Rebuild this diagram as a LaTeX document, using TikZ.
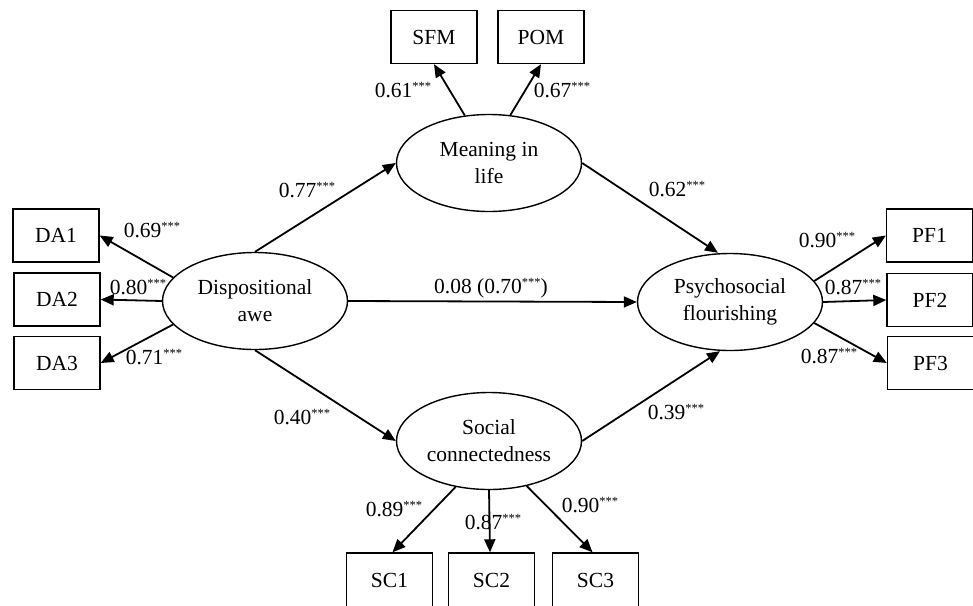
\documentclass[tikz,border=0pt]{standalone}
\usepackage{fontspec}
\setmainfont{Liberation Serif}
\usetikzlibrary{shapes.geometric,arrows.meta}
\newcommand{\fsz}{\fontsize{21.5}{27}\selectfont}
\newcommand{\st}{\raisebox{7.5pt}{\fontsize{12.5}{12.5}\selectfont ***}}
\tikzset{
  obs/.style={draw, line width=1.4pt, minimum width=86pt, minimum height=53pt, inner sep=0pt, font=\fsz},
  lat/.style={draw, ellipse, line width=1.4pt, minimum width=185pt, minimum height=97pt, inner sep=0pt, align=center, font=\fsz},
  arr/.style={line width=1.8pt, -{Triangle[length=13pt,width=11pt]}},
  lab/.style={font=\fsz, inner sep=0pt}
}
\begin{document}
\begin{tikzpicture}[x=1pt,y=-1pt]
\useasboundingbox (0,0) rectangle (973,605);
% latent
\node[lat] (da) at (255,301) {Dispositional\\awe};
\node[lat] (mil) at (489,163) {Meaning in\\life};
\node[lat] (sc) at (489,441) {Social\\connectedness};
\node[lat] (pf) at (730,302) {Psychosocial\\flourishing};
% observed
\node[obs] (da1) at (56,235.5) {DA1};
\node[obs] (da2) at (57,299.5) {DA2};
\node[obs] (da3) at (57,363) {DA3};
\node[obs] (sfm) at (434,37) {SFM};
\node[obs] (pom) at (541,37) {POM};
\node[obs] (pf1) at (929.5,235.5) {PF1};
\node[obs] (pf2) at (930,300) {PF2};
\node[obs] (pf3) at (930.5,363) {PF3};
\node[obs, minimum height=54pt] (sc1) at (389.5,580) {SC1};
\node[obs, minimum height=54pt] (sc2) at (491.5,580) {SC2};
\node[obs, minimum height=54pt] (sc3) at (595.5,580) {SC3};
% structural paths
\draw[arr] (da.north) -- (mil.west);
\draw[arr] (da.south) -- (sc.west);
\draw[arr] (da.east) -- (pf.west);
\draw[arr] (mil.east) -- ([xshift=-12pt]pf.north);
\draw[arr] (sc.east) -- ([xshift=-10pt]pf.south);
% measurement
\draw[arr] (da.164) -- (da1.east);
\draw[arr] (da.west) -- (da2.east);
\draw[arr] (da.196) -- (da3.east);
\draw[arr] (mil.117) -- (sfm.south);
\draw[arr] (mil.66) -- (pom.south);
\draw[arr] (pf.14.5) -- (pf1.west);
\draw[arr] (pf.east) -- (pf2.west);
\draw[arr] (pf.-14) -- (pf3.west);
\draw[arr] (sc.234) -- ([xshift=3pt]sc1.north);
\draw[arr] (sc.south) -- ([xshift=-1.5pt]sc2.north);
\draw[arr] (sc.-50) -- ([xshift=-3pt]sc3.north);
% labels
\node[lab] (l1) at (307,190) {0.77\st};
\node[lab] (l2) at (152,230) {0.69\st};
\node[lab] (l3) at (138,287) {0.80\st};
\node[lab] (l4) at (154,357) {0.71\st};
\node[lab] (l5) at (403,90) {0.61\st};
\node[lab] (l6) at (562,90) {0.67\st};
\node[lab] (l7) at (677,189) {0.62\st};
\node[lab] (l8) at (491,288) {0.08 (0.70\st)};
\node[lab] (l9) at (827,240) {0.90\st};
\node[lab] (l10) at (853,287) {0.87\st};
\node[lab] (l11) at (829,356) {0.87\st};
\node[lab] (l12) at (302,417) {0.40\st};
\node[lab] (l13) at (676,412) {0.39\st};
\node[lab] (l14) at (394,509) {0.89\st};
\node[lab] (l15) at (493,522) {0.87\st};
\node[lab] (l16) at (590,505) {0.90\st};
\end{tikzpicture}
\end{document}
